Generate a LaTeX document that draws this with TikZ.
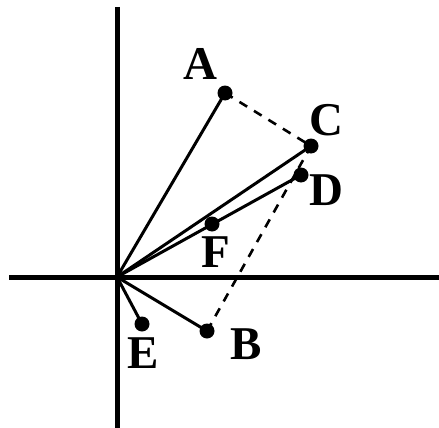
\documentclass[tikz,border=0pt]{standalone}
\usepackage{fontspec}
\setmainfont{Liberation Serif}
\begin{document}
\begin{tikzpicture}[x=1pt,y=-1pt,
  axis/.style={line width=4.8pt},
  vec/.style={line width=3pt},
  dsh/.style={line width=2.6pt,dash pattern=on 9pt off 8pt},
  pt/.style={circle,fill=black,inner sep=0pt,minimum size=15pt},
  lbl/.style={font=\fontsize{47}{47}\selectfont\bfseries,inner sep=0pt}]
\useasboundingbox (0,0) rectangle (439,428);
\coordinate (yt) at (117.5,7);
\coordinate (yb) at (117.5,428);
\coordinate (xl) at (9,277.5);
\coordinate (xr) at (439,277.5);
\coordinate (O) at (117,277);
\draw[axis] (yt) -- (yb);
\draw[axis] (xl) -- (xr);
\node[pt] (A) at (225,93) {};
\node[pt] (C) at (311,146) {};
\node[pt] (D) at (301,175) {};
\node[pt] (F) at (212,224) {};
\node[pt] (B) at (207,331) {};
\node[pt] (E) at (142,324) {};
\draw[vec] (O) -- (A.center);
\draw[vec] (O) -- (C.center);
\draw[vec] (O) -- (D.center);
\draw[vec] (O) -- (B.center);
\draw[vec] (O) -- (E.center);
\draw[dsh] (A.center) -- (C.center);
\draw[dsh] (B.center) -- (C.center);
\node[lbl] (lA) at (200,64) {A};
\node[lbl] (lC) at (326,120) {C};
\node[lbl] (lD) at (326,190) {D};
\node[lbl] (lF) at (216,252) {F};
\node[lbl] (lB) at (246,344) {B};
\node[lbl] (lE) at (143,353) {E};
\end{tikzpicture}
\end{document}
